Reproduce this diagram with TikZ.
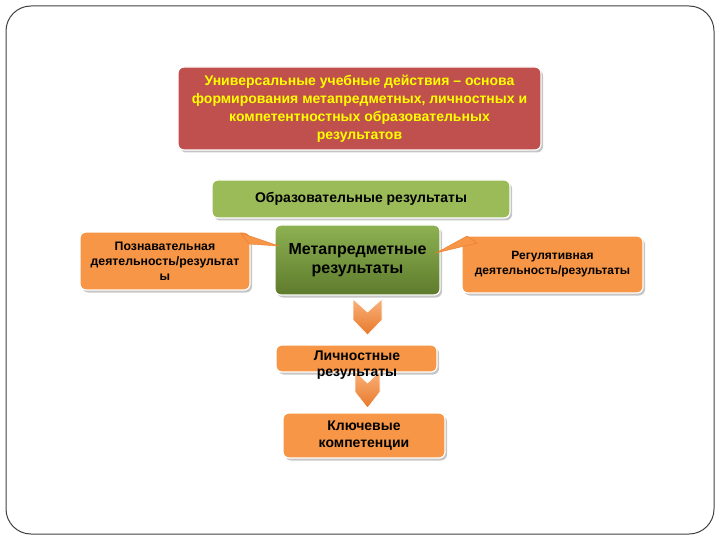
\documentclass[tikz,border=0pt]{standalone}
\usepackage{fontspec}
\setmainfont{Liberation Sans}
\usetikzlibrary{shadows}
\definecolor{boxred}{HTML}{C0504D}
\definecolor{boxyellow}{HTML}{FFFF00}
\definecolor{boxgreen}{HTML}{9BBB59}
\definecolor{metatop}{HTML}{8DB152}
\definecolor{metabot}{HTML}{5E7B2C}
\definecolor{boxorange}{HTML}{F79646}
\definecolor{chevtop}{HTML}{FAB27A}
\definecolor{chevbot}{HTML}{E8782A}
\tikzset{
  block/.style={rounded corners=6pt, draw=white, line width=1.2pt,
    drop shadow={shadow xshift=2pt, shadow yshift=-2.5pt, opacity=.45},
    align=center, font=\bfseries, inner sep=2pt},
  chevron/.style={top color=chevtop, bottom color=chevbot, draw=white, line width=.6pt},
  tail/.style={fill=boxorange, draw=chevbot, line width=.4pt},
}
\begin{document}
\begin{tikzpicture}[x=1pt, y=-1pt]
	\useasboundingbox (0,0) rectangle (720,540);
	\draw[black!75, line width=1pt, rounded corners=25pt] (6,6) rectangle (714,534);
	% top
	\node[block, fill=boxred, text=boxyellow, minimum width=363pt, minimum height=83pt, font=\bfseries\fontsize{14}{18}\selectfont] (uud) at (359.5,108.5)
		{Универсальные учебные действия – основа\\формирования метапредметных, личностных и\\компетентностных образовательных\\результатов};
	\node[block, fill=boxgreen, minimum width=298pt, minimum height=38pt, font=\bfseries\fontsize{14}{16}\selectfont] (obr) at (361,199) {Образовательные результаты};
	% middle row
	\node[block, top color=metatop, bottom color=metabot, minimum width=165pt, minimum height=70pt, font=\bfseries\fontsize{16}{19}\selectfont] (meta) at (357.5,260) {Метапредметные\\результаты};
	\node[block, fill=boxorange, minimum width=170pt, minimum height=58pt, font=\bfseries\fontsize{12.3}{15}\selectfont] (pozn) at (165,261) {Познавательная\\деятельность/результат\\ы};
	\node[block, fill=boxorange, minimum width=181pt, minimum height=57pt, font=\bfseries\fontsize{12}{15}\selectfont] (reg) at (552.5,264.5) {Регулятивная\\деятельность/результаты};
	\filldraw[tail] (241,233) -- (279,246) -- (249,244) -- cycle;
	\filldraw[tail] (436,253) -- (467,236) -- (477,243) -- cycle;
	% down
	\draw[chevron] (353,299) -- (367.5,312) -- (382,299) -- (382,320) -- (367.5,335) -- (353,320) -- cycle;
	\path[block, fill=boxorange] (276,345) rectangle (437,372);
	\draw[chevron] (355,371) -- (367.5,383) -- (380,371) -- (380,392) -- (367.5,408) -- (355,392) -- cycle;
	\node[align=center, font=\bfseries\fontsize{14}{16}\selectfont] (lich) at (357,365) {Личностные\\результаты};
	\node[block, fill=boxorange, minimum width=162pt, minimum height=45pt, font=\bfseries\fontsize{14}{17}\selectfont] (klyuch) at (364,435.5) {Ключевые\\компетенции};
\end{tikzpicture}
\end{document}
